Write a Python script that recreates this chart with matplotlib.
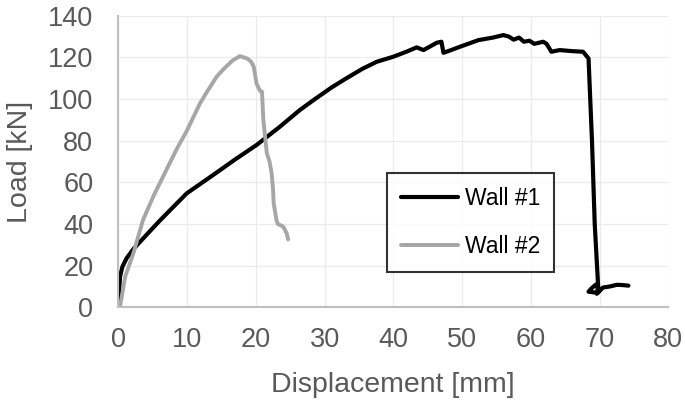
import matplotlib
matplotlib.use("Agg")
from matplotlib import pyplot as plt

plt.rcParams['font.family'] = ['Liberation Sans', 'DejaVu Sans']

# Wall #1 (black) - displacement [mm], load [kN]
wall1_x = [0, 0.1, 0.25, 0.6, 1.2, 2.2, 3.6, 6.0, 9.95, 14.0, 17.0, 20.1, 23.5,
           26.4, 28.4, 31.0, 33.2, 35.5, 37.6, 40.0, 41.9, 43.4, 44.4, 45.5,
           46.3, 47.0, 47.3, 48.0, 49.7, 52.4, 54.5, 56.0, 56.8, 57.5, 58.3,
           59.0, 59.8, 60.5, 61.8, 62.3, 63.0, 64.2, 66.0, 67.6, 68.4, 68.9,
           69.3, 69.8, 69.6, 68.4, 68.8, 69.5, 70.0, 69.6, 70.5, 71.5, 72.5,
           73.3, 74.2]
wall1_y = [0, 6, 14.7, 19.5, 23.5, 28, 33, 41.5, 54.7, 64, 71, 77.9, 86.7,
           94.7, 99.5, 105.5, 110, 114.5, 117.9, 120.3, 122.7, 124.8, 123.5,
           125.5, 127, 127.5, 122.2, 123, 125.1, 128.3, 129.5, 130.7, 130,
           128.5, 129.5, 127.5, 128, 126.5, 127.5, 126.5, 122.7, 123.5, 123,
           122.7, 119.5, 80, 40, 10, 7, 7.5, 9, 11, 8, 6.5, 9.5, 10, 10.8,
           10.7, 10.4]

# Wall #2 (grey)
wall2_x = [0, 0.25, 0.6, 1.0, 2.2, 3.6, 5.2, 7.0, 8.5, 10.0, 11.9, 13.0, 14.3,
           15.5, 16.7, 17.7, 18.7, 19.3, 19.7, 20.1, 20.6, 20.9, 21.1, 21.6,
           22.0, 22.3, 22.5, 22.6, 23.0, 23.2, 24.0, 24.5, 24.7]
wall2_y = [0, 0.3, 7, 14.7, 26, 42, 54, 66, 76, 85, 98, 104, 110.7,
           115, 118.7, 120.6, 119.5, 118, 115.5, 107.5, 104, 103.5, 90, 74,
           70, 64.3, 57, 50, 42, 40, 38.7, 35.5, 32.6]

fig = plt.figure(figsize=(6.85, 4.05), dpi=100)
ax = fig.add_axes([0.1727, 0.2412, 0.8029, 0.72])

ax.plot(wall1_x, wall1_y, color='black', lw=3, label='Wall #1',
        solid_joinstyle='round', solid_capstyle='round')
ax.plot(wall2_x, wall2_y, color='#A6A6A6', lw=2.8, label='Wall #2',
        solid_joinstyle='round', solid_capstyle='round')

ax.set_xlim(0, 80)
ax.set_ylim(0, 140)
ax.set_xticks(range(0, 81, 10))
ax.set_yticks(range(0, 141, 20))
ax.grid(True, color='#EBEBEB', lw=0.9)
ax.set_axisbelow(True)

for s in ['top', 'right']:
    ax.spines[s].set_visible(False)
for s in ['left', 'bottom']:
    ax.spines[s].set_color('#BFBFBF')
    ax.spines[s].set_linewidth(1.5)

ax.tick_params(length=0, labelsize=19.5, labelcolor='#595959')
ax.tick_params(axis='x', pad=14)
ax.tick_params(axis='y', pad=18)
ax.set_xlabel('Displacement [mm]', fontsize=20.5, color='#595959', labelpad=14)
ax.set_ylabel('Load [kN]', fontsize=20.5, color='#595959', labelpad=11)

leg = ax.legend(loc='upper left', bbox_to_anchor=(0.4885, 0.4606),
                borderaxespad=0, fontsize=16.5, frameon=True, fancybox=False,
                handlelength=2.5, labelspacing=1.1, handletextpad=0.3,
                borderpad=0.6)
leg.get_frame().set_edgecolor('black')
leg.get_frame().set_linewidth(1.5)

fig.savefig('out.png', dpi=100)
